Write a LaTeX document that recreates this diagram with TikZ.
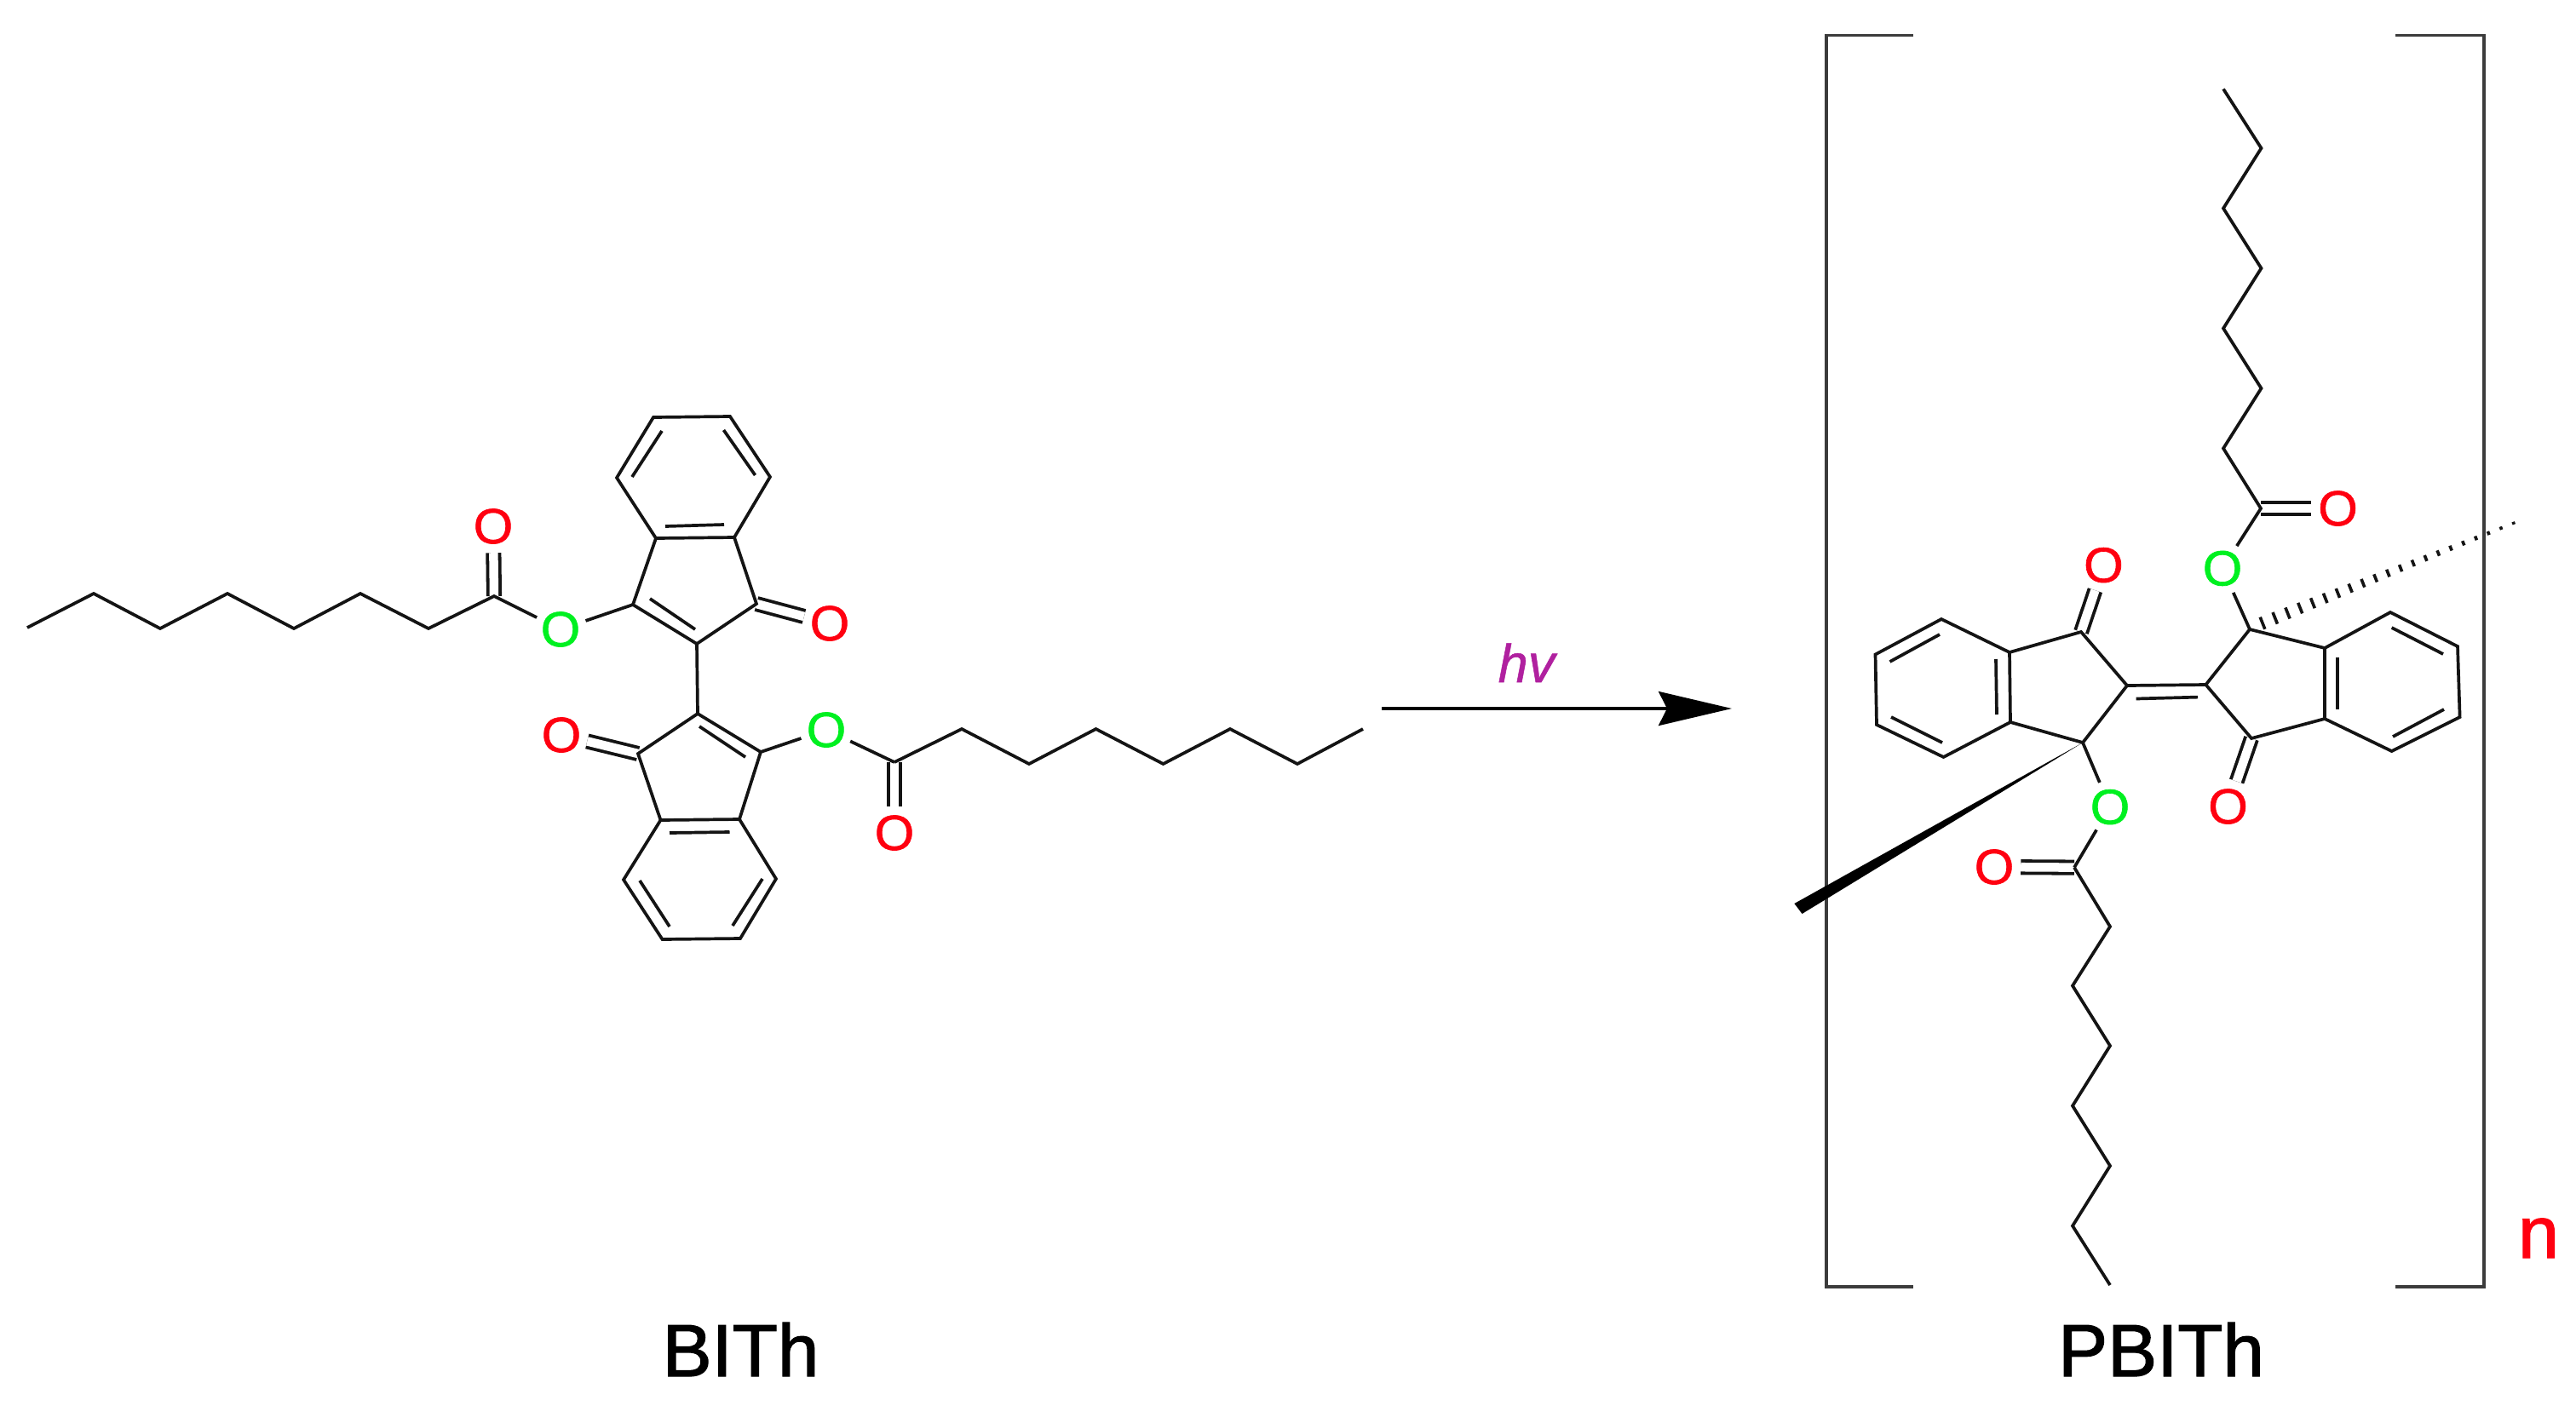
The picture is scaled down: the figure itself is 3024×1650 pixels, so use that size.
\documentclass[tikz,border=0pt]{standalone}
\usepackage{fontspec}
\setmainfont{Liberation Sans}
\newfontfamily\atomfont[FakeBold=1.2,FakeStretch=1.03]{Liberation Sans}
\newfontfamily\capfont[FakeBold=1.5]{Liberation Sans}
\newfontfamily\hvfont[FakeBold=0.8]{Liberation Sans Italic}
\usetikzlibrary{arrows.meta,calc}
\definecolor{bondc}{HTML}{141414}
\definecolor{brackc}{HTML}{3C3C3C}
\definecolor{oxred}{HTML}{FF0010}
\definecolor{oxgreen}{HTML}{00F020}
\definecolor{hvc}{HTML}{B0209F}
\tikzset{
  bond/.style={draw=bondc,line width=3.7pt,line join=miter},
  dbond/.style={draw=bondc,line width=3.8pt,double=white,double distance=10.5pt},
  brack/.style={draw=brackc,line width=3.6pt,line join=miter},
  atomo/.style={circle,inner sep=0pt,minimum size=62pt,font=\atomfont\fontsize{58}{58}\selectfont},
  redo/.style={atomo,text=oxred},
  greeno/.style={atomo,text=oxgreen},
  caption/.style={anchor=base,font=\capfont\fontsize{87}{87}\selectfont,text=black}
}
\begin{document}
\begin{tikzpicture}[x=1pt,y=-1pt]
\useasboundingbox (0,0) rectangle (3024,1650);
% ---------- BITh coordinates
\foreach \n/\x/\y in {
 l0/32/737,l1/110/697,l2/188/738,l3/267/697,l4/345/738,l5/423/697,l6/503/738,l7/580/700,
 t1/743/710,t2/818/756,t3/888/709,t3a/862/631,t7a/770/632,
 tb1/724/561,tb2/767/490,tb3/857/489,tb4/904/560,
 m2/819/838,m1/893/883,m3/749/885,m3a/775.5/963,m7a/868/962,
 mb1/732/1033,mb2/777.5/1103,mb3/869/1102,mb4/911/1032,
 r0/1050/895,r1/1129/856,r2/1208/897,r3/1286.5/856,r4/1365.5/897,r5/1444/856,r6/1523/897,r7/1600/856}
 {\coordinate (\n) at (\x,\y);}
\node[redo]   (Oa) at (579,618) {O};
\node[greeno] (Ob) at (658,739) {O};
\node[redo]   (Oc) at (974,732) {O};
\node[redo]   (Od) at (659,863) {O};
\node[greeno] (Oe) at (970,857) {O};
\node[redo]   (Of) at (1050,978) {O};
% carbonyls
\draw[dbond] (l7) -- (Oa);
\draw[dbond] (t3) -- (Oc);
\draw[dbond] (m3) -- (Od);
\draw[dbond] (r0) -- (Of);
% skeleton
\draw[bond] (l0)--(l1)--(l2)--(l3)--(l4)--(l5)--(l6)--(l7)--(Ob);
\draw[bond] (Ob)--(t1);
\draw[bond] (t1)--(t2)--(t3)--(t3a)--(t7a)--cycle;
\draw[bond] (t7a)--(tb1)--(tb2)--(tb3)--(tb4)--(t3a);
\draw[bond] (t2)--(m2);
\draw[bond] (m2)--(m1)--(m7a)--(m3a)--(m3)--cycle;
\draw[bond] (m3a)--(mb1)--(mb2)--(mb3)--(mb4)--(m7a);
\draw[bond] (m1)--(Oe);
\draw[bond] (Oe)--(r0);
\draw[bond] (r0)--(r1)--(r2)--(r3)--(r4)--(r5)--(r6)--(r7);
% inner lines of the double bonds
\foreach \n/\xa/\ya/\xb/\yb in {
 ia/781/618/850/616, ib/742/560/777/506, ic/849.5/505/886.5/558, id/763/703/816/739,
 ie/786/978/856.5/977, if/751/1034/786/1088, ig/860/1087/895/1032, ih/821/853/875/889,
 ja/2343/774/2344/839, jb/2218.5/777/2277/745, jc/2220/842/2280/872,
 jd/2507.6/820.5/2580/818.6,
 je/2744/771.5/2744/833, jf/2807.6/737/2868/768, jg/2809/865/2869/833}
 {\coordinate (\n a) at (\xa,\ya);
  \coordinate (\n b) at (\xb,\yb);
  \draw[bond] (\n a)--(\n b);}
% ---------- reaction arrow
\coordinate (as) at (1622,832);
\coordinate (ae) at (2033,832);
\draw[draw=black,line width=3.6pt,-{Stealth[length=86pt,width=40pt,inset=10pt]}] (as) -- (ae);
\node[anchor=base,text=hvc,font=\hvfont\fontsize{63}{63}\selectfont] (hv) at (1792,801) {hv};
% ---------- PBITh coordinates
\foreach \n/\x/\y in {
 p0/2610/104.5,p1/2654.5/174,p2/2610/244.6,p3/2654.5/315,p4/2610/385.6,p5/2654.5/456,p6/2610/526.5,p7/2654/597,
 a1/2641/739,a2/2589.4/804,a3/2643/867,a3a/2729/844,a7a/2729/761,
 ab1/2806/719,ab2/2885/759,ab3/2887.6/842,ab4/2807.6/882,
 c2/2497/805,c1/2443/742,c7a/2359/766,c3a/2360/848,c3/2445/872,
 cb1/2279/727,cb2/2201.5/768.5,cb3/2203/851,cb4/2281.5/889,
 q0/2435/1018.6,q1/2477/1088,q2/2433/1157.5,q3/2477/1228,q4/2433/1298.5,q5/2477/1369,q6/2433/1439.5,q7/2477/1509,
 blt/2246/41.5,blc/2144/41.5,blb/2144/1511,ble/2246/1511,
 brt/2812/41.5,brc/2916/41.5,brb/2916/1511,bre/2812/1511,
 w1/2106.4/1061,w2/2115.5/1073,
 hs/2656/731.7,he/2950.7/614.3}
 {\coordinate (\n) at (\x,\y);}
% brackets
\draw[brack] (blt)--(blc)--(blb)--(ble);
\draw[brack] (brt)--(brc)--(brb)--(bre);
\node[redo]   (Og) at (2744.5,597) {O};
\node[greeno] (Oh) at (2609,667.4) {O};
\node[redo]   (Oi) at (2469.4,663.6) {O};
\node[redo]   (Oj) at (2615.5,947) {O};
\node[greeno] (Ok) at (2477,947.6) {O};
\node[redo]   (Ol) at (2341,1018) {O};
% carbonyls
\draw[dbond] (p7) -- (Og);
\draw[dbond] (c1) -- (Oi);
\draw[dbond] (a3) -- (Oj);
\draw[dbond] (q0) -- (Ol);
% skeleton
\draw[bond] (p0)--(p1)--(p2)--(p3)--(p4)--(p5)--(p6)--(p7)--(Oh);
\draw[bond] (Oh)--(a1);
\draw[bond] (a1)--(a2)--(a3)--(a3a)--(a7a)--cycle;
\draw[bond] (a7a)--(ab1)--(ab2)--(ab3)--(ab4)--(a3a);
\draw[bond] (c2)--(a2);
\draw[bond] (c2)--(c1)--(c7a)--(c3a)--(c3)--cycle;
\draw[bond] (c7a)--(cb1)--(cb2)--(cb3)--(cb4)--(c3a);
\draw[bond] (c3)--(Ok);
\draw[bond] (Ok)--(q0);
\draw[bond] (q0)--(q1)--(q2)--(q3)--(q4)--(q5)--(q6)--(q7);
% wedge and hashed bonds
\fill[black] (c3)--(w1)--(w2)--cycle;
\foreach \i in {0,...,20}{
  \pgfmathsetmacro{\hl}{7.6-0.30*\i}
  \draw[draw=bondc,line width=3.6pt]
    ($(hs)!\i/20!(he)+(-0.37*\hl,-0.93*\hl)$) -- ($(hs)!\i/20!(he)+(0.37*\hl,0.93*\hl)$);
}
% captions
\node[caption] (bith) at (869.5,1616) {BITh};
\node[caption] (pbith) at (2537,1616) {PBITh};
\node[anchor=base,text=oxred,font=\capfont\fontsize{86}{86}\selectfont] (nn) at (2980,1477) {n};
\end{tikzpicture}
\end{document}
